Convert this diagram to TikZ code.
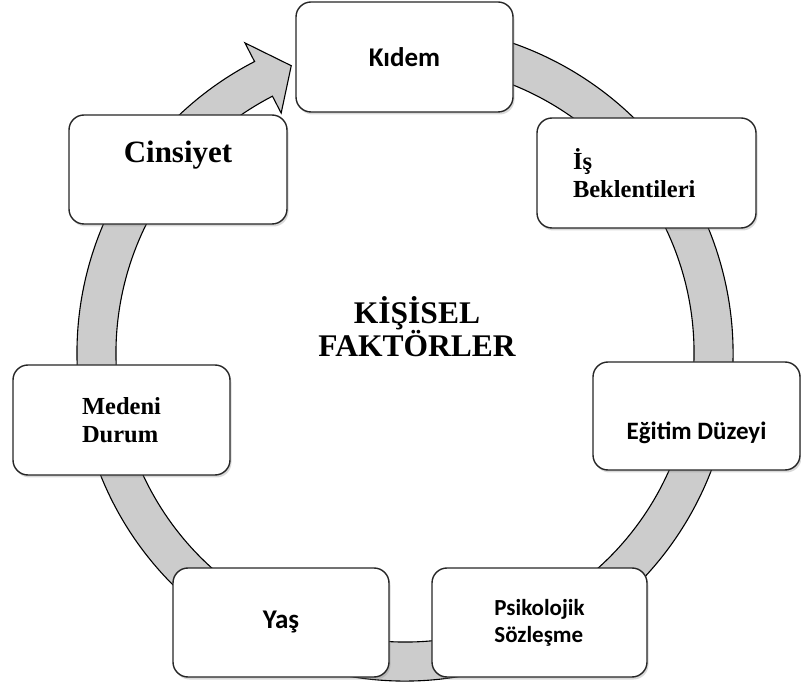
\documentclass[tikz,border=0pt]{standalone}
\usepackage{fontspec}
\setmainfont{Liberation Serif}
\newfontfamily\carlito{Carlito}
\usetikzlibrary{calc,shadows}

\begin{document}
\begin{tikzpicture}[x=1pt,y=1pt]
\tikzset{
  factorbox/.style={draw=black!85,line width=1.4pt,rounded corners=15pt,fill=white,
    drop shadow={shadow xshift=1.5pt,shadow yshift=-2.5pt,opacity=0.3},
    minimum width=217pt,minimum height=110pt,inner sep=0pt},
  serifbox/.style={factorbox,font=\fontsize{24.5}{28}\selectfont\bfseries},
  sansbox/.style={factorbox,font=\fontsize{23}{27}\selectfont\carlito\bfseries},
  bigsans/.style={factorbox,font=\fontsize{27}{32}\selectfont\carlito\bfseries},
  ringband/.style={draw=black,line width=1.1pt,fill=black!20,line join=miter}
}
\useasboundingbox (0,0) rectangle (801,689);
\coordinate (ring_c) at (405,336);
% grey ring, ends in the arrow head left of Kidem
\draw[ringband] ($(ring_c)+(105:328pt)$) arc[start angle=105,end angle=-242.7,radius=328pt]
  -- ($(ring_c)+(117.3:349pt)$) -- ($(ring_c)+(111.6:309pt)$) -- ($(ring_c)+(117.3:270pt)$)
  -- ($(ring_c)+(117.3:289pt)$) arc[start angle=-242.7,end angle=105,radius=289pt] -- cycle;
% boxes round the ring
\node[bigsans] (n_kidem) at (404.5,632) {Kıdem};
\node[serifbox,minimum width=219pt,text width=147pt,inner xsep=36pt,align=left] (n_beklenti) at (646.5,516) {İş\\Beklentileri};
\node[bigsans,font=\fontsize{25}{30}\selectfont\carlito\bfseries,minimum width=207pt,minimum height=108pt,text height=54pt,text depth=6pt] (n_egitim) at (696.5,273) {Eğitim Düzeyi};
\node[sansbox,minimum width=215pt,minimum height=109pt,align=left] (n_sozlesme) at (539.5,66.5) {Psikolojik\\Sözleşme};
\node[bigsans,minimum width=216pt,minimum height=109pt] (n_yas) at (281,66.5) {Yaş};
\node[serifbox,align=left] (n_medeni) at (121.5,269) {Medeni\\Durum};
\node[factorbox,font=\fontsize{31}{36}\selectfont\bfseries,minimum width=218pt,minimum height=109pt,text height=22pt,text depth=35pt] (n_cinsiyet) at (178,519.5) {Cinsiyet};
% centre title
\node[font=\fontsize{31.5}{33}\selectfont\bfseries,align=center] (n_baslik) at (417,362) {KİŞİSEL\\FAKTÖRLER};
\end{tikzpicture}
\end{document}
